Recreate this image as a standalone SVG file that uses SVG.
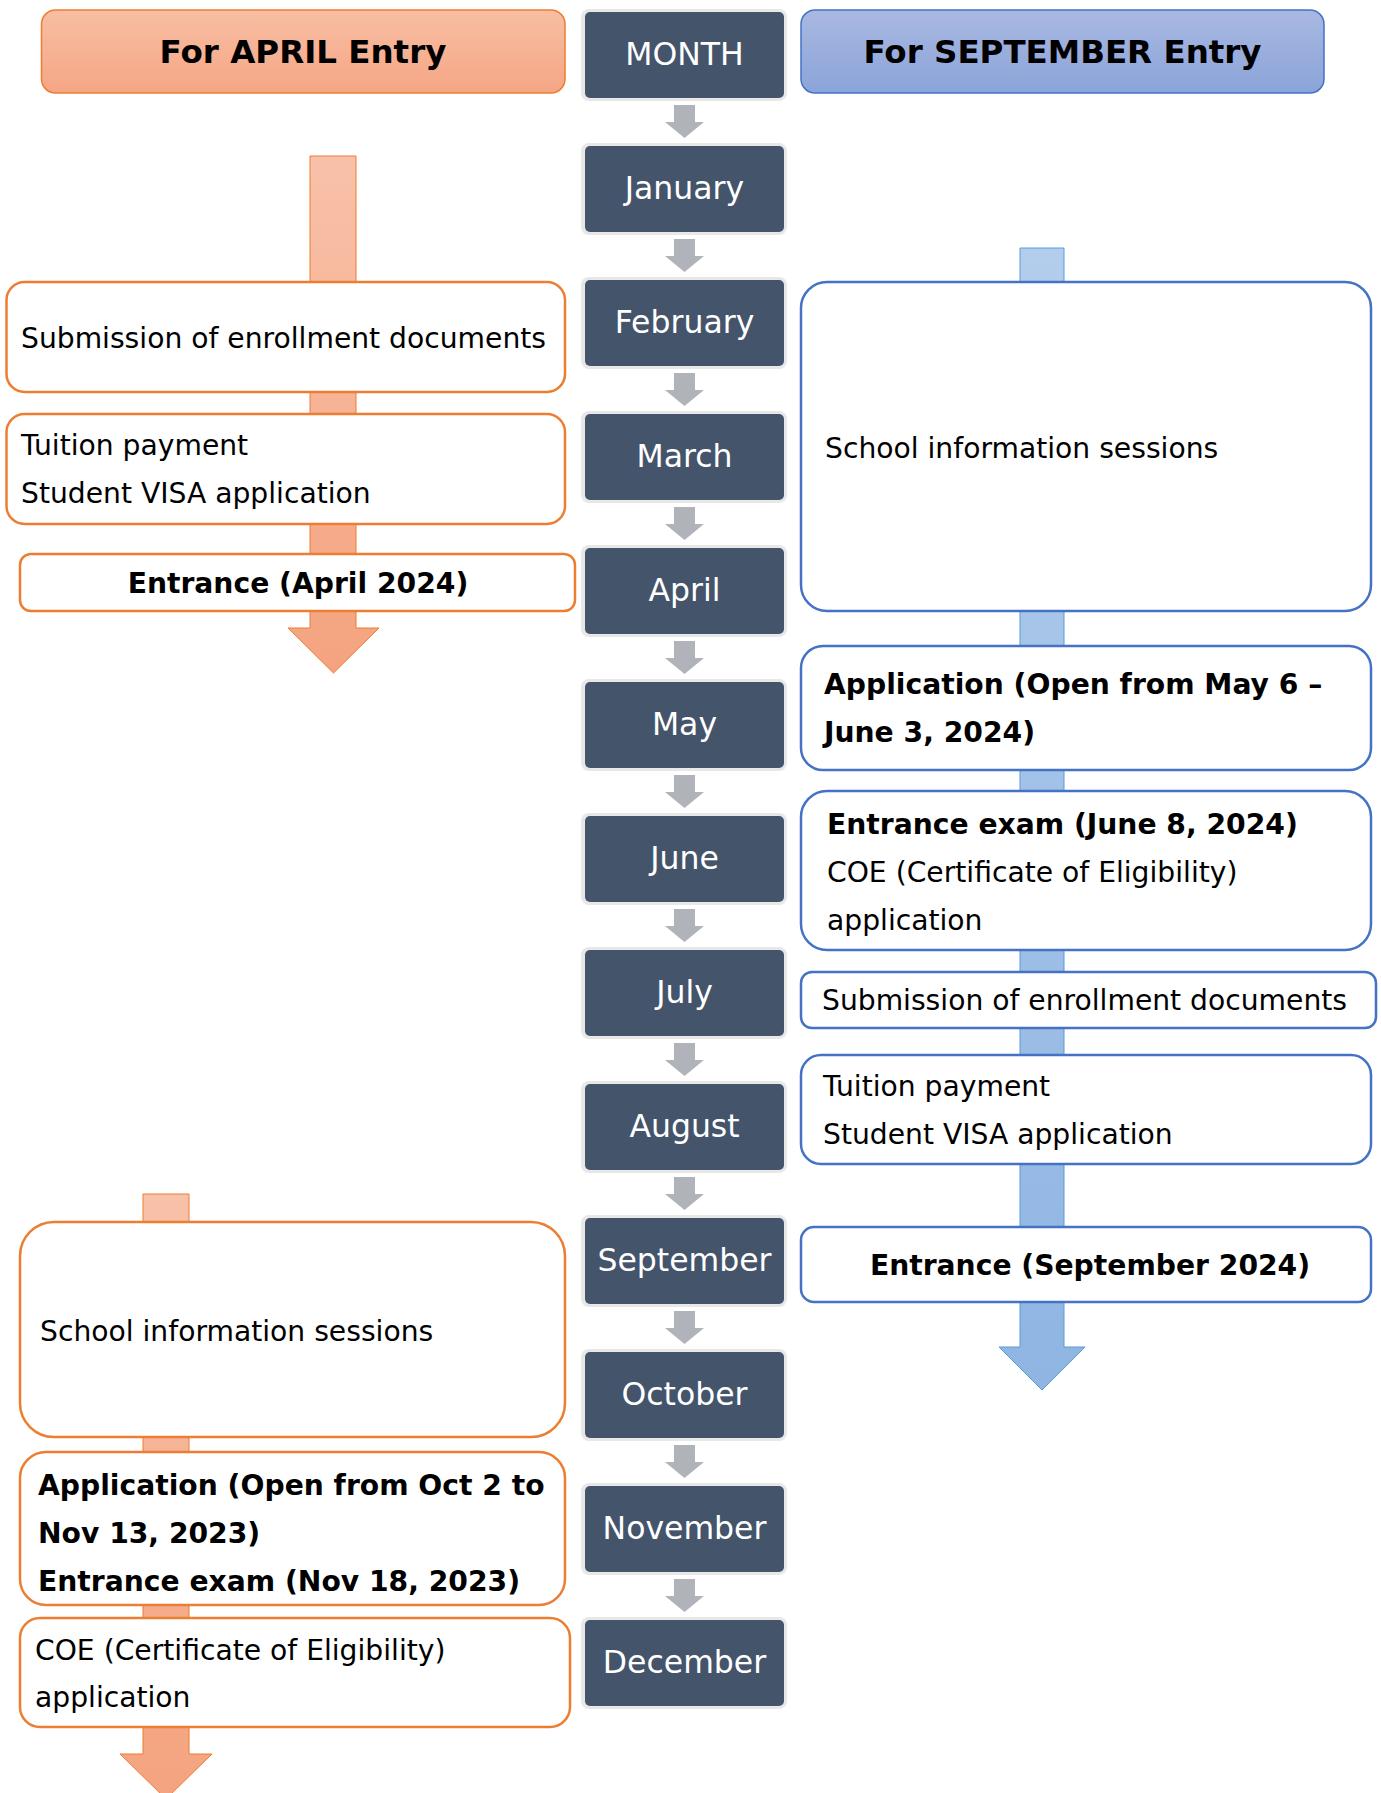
<svg xmlns="http://www.w3.org/2000/svg" xmlns:xlink="http://www.w3.org/1999/xlink" width="1381" height="1793" viewBox="0 0 1381 1793">
<defs>
<linearGradient id="gOr" x1="0" y1="0" x2="0" y2="1"><stop offset="0" stop-color="#f8c1a9"/><stop offset="1" stop-color="#f4a37f"/></linearGradient>
<linearGradient id="gBl" x1="0" y1="0" x2="0" y2="1"><stop offset="0" stop-color="#b3cdec"/><stop offset="1" stop-color="#8fb5e3"/></linearGradient>
<linearGradient id="gHOr" x1="0" y1="0" x2="0" y2="1"><stop offset="0" stop-color="#f8bea4"/><stop offset="1" stop-color="#f5a684"/></linearGradient>
<linearGradient id="gHBl" x1="0" y1="0" x2="0" y2="1"><stop offset="0" stop-color="#a9b8e1"/><stop offset="1" stop-color="#8ba4d9"/></linearGradient>
<path id="ga" d="M9,0 H30 V17 H39 L19.5,33 L0,17 H9 Z" fill="#b0b3b9"/>
</defs>
<style>
text{font-family:"DejaVu Sans","Verdana",sans-serif;}
.t{font-size:28.2px;fill:#000;}
.b{font-size:28.2px;font-weight:bold;fill:#000;}
.h{font-size:32.5px;font-weight:bold;fill:#000;text-anchor:middle;}
.m{font-size:31.5px;fill:#fff;text-anchor:middle;}
.or{fill:#fff;stroke:#ed7d31;stroke-width:2.5;}
.bl{fill:#fff;stroke:#4472c4;stroke-width:2.5;}
.mo-o{fill:#e8e8e8;}
.mo-i{fill:#44546a;}
</style>
<rect width="1381" height="1793" fill="#fff"/>
<g id="connectors">
<path d="M310,156 H356 V628 H379 L333.5,673 L288,628 H310 Z" fill="url(#gOr)" stroke="#ed7d31" stroke-width="1"/>
<path d="M1020,248 H1064 V1347 H1085 L1042,1390 L999,1347 H1020 Z" fill="url(#gBl)" stroke="#5b9bd5" stroke-width="1"/>
<path d="M143,1194 H189 V1754 H212 L166,1799 L120,1754 H143 Z" fill="url(#gOr)" stroke="#ed7d31" stroke-width="1"/>
<use xlink:href="#ga" x="665" y="105"/>
<use xlink:href="#ga" x="665" y="239"/>
<use xlink:href="#ga" x="665" y="373"/>
<use xlink:href="#ga" x="665" y="507"/>
<use xlink:href="#ga" x="665" y="641"/>
<use xlink:href="#ga" x="665" y="775"/>
<use xlink:href="#ga" x="665" y="909"/>
<use xlink:href="#ga" x="665" y="1043"/>
<use xlink:href="#ga" x="665" y="1177"/>
<use xlink:href="#ga" x="665" y="1311"/>
<use xlink:href="#ga" x="665" y="1445"/>
<use xlink:href="#ga" x="665" y="1579"/>
</g>
<g id="header-april"><rect x="41.5" y="10" width="523.5" height="83" rx="14" fill="url(#gHOr)" stroke="#ed7d31" stroke-width="1.5"/><text class="h" x="303" y="63">For APRIL Entry</text></g>
<g id="header-september"><rect x="801" y="10" width="523" height="83" rx="14" fill="url(#gHBl)" stroke="#4472c4" stroke-width="1.5"/><text class="h" x="1062.5" y="63">For SEPTEMBER Entry</text></g>
<g id="m-month"><rect class="mo-o" x="581" y="9" width="206" height="92" rx="8"/><rect class="mo-i" x="585" y="12" width="199" height="86" rx="5"/><text class="m" x="684.5" y="65">MONTH</text></g>
<g id="m-jan"><rect class="mo-o" x="581" y="143" width="206" height="92" rx="8"/><rect class="mo-i" x="585" y="146" width="199" height="86" rx="5"/><text class="m" x="684.5" y="199">January</text></g>
<g id="m-feb"><rect class="mo-o" x="581" y="277" width="206" height="92" rx="8"/><rect class="mo-i" x="585" y="280" width="199" height="86" rx="5"/><text class="m" x="684.5" y="333">February</text></g>
<g id="m-mar"><rect class="mo-o" x="581" y="411" width="206" height="92" rx="8"/><rect class="mo-i" x="585" y="414" width="199" height="86" rx="5"/><text class="m" x="684.5" y="467">March</text></g>
<g id="m-apr"><rect class="mo-o" x="581" y="545" width="206" height="92" rx="8"/><rect class="mo-i" x="585" y="548" width="199" height="86" rx="5"/><text class="m" x="684.5" y="601">April</text></g>
<g id="m-may"><rect class="mo-o" x="581" y="679" width="206" height="92" rx="8"/><rect class="mo-i" x="585" y="682" width="199" height="86" rx="5"/><text class="m" x="684.5" y="735">May</text></g>
<g id="m-jun"><rect class="mo-o" x="581" y="813" width="206" height="92" rx="8"/><rect class="mo-i" x="585" y="816" width="199" height="86" rx="5"/><text class="m" x="684.5" y="869">June</text></g>
<g id="m-jul"><rect class="mo-o" x="581" y="947" width="206" height="92" rx="8"/><rect class="mo-i" x="585" y="950" width="199" height="86" rx="5"/><text class="m" x="684.5" y="1003">July</text></g>
<g id="m-aug"><rect class="mo-o" x="581" y="1081" width="206" height="92" rx="8"/><rect class="mo-i" x="585" y="1084" width="199" height="86" rx="5"/><text class="m" x="684.5" y="1137">August</text></g>
<g id="m-sep"><rect class="mo-o" x="581" y="1215" width="206" height="92" rx="8"/><rect class="mo-i" x="585" y="1218" width="199" height="86" rx="5"/><text class="m" x="684.5" y="1271">September</text></g>
<g id="m-oct"><rect class="mo-o" x="581" y="1349" width="206" height="92" rx="8"/><rect class="mo-i" x="585" y="1352" width="199" height="86" rx="5"/><text class="m" x="684.5" y="1405">October</text></g>
<g id="m-nov"><rect class="mo-o" x="581" y="1483" width="206" height="92" rx="8"/><rect class="mo-i" x="585" y="1486" width="199" height="86" rx="5"/><text class="m" x="684.5" y="1539">November</text></g>
<g id="m-dec"><rect class="mo-o" x="581" y="1617" width="206" height="92" rx="8"/><rect class="mo-i" x="585" y="1620" width="199" height="86" rx="5"/><text class="m" x="684.5" y="1673">December</text></g>
<g id="a-submission"><rect class="or" x="6.5" y="282" width="558.5" height="110" rx="18"/><text class="t" x="21" y="348">Submission of enrollment documents</text></g>
<g id="a-tuition"><rect class="or" x="6.5" y="414" width="558.5" height="110" rx="18"/><text class="t" x="21" y="455">Tuition payment</text><text class="t" x="21" y="503">Student VISA application</text></g>
<g id="a-entrance"><rect class="or" x="20" y="554" width="555" height="57" rx="11"/><text class="b" x="298" y="593" text-anchor="middle">Entrance (April 2024)</text></g>
<g id="a-sessions"><rect class="or" x="20" y="1222" width="545" height="215" rx="34"/><text class="t" x="40" y="1341">School information sessions</text></g>
<g id="a-application"><rect class="or" x="20" y="1452" width="545" height="153" rx="26"/><text class="b" x="38" y="1495">Application (Open from Oct 2 to</text><text class="b" x="38" y="1543">Nov 13, 2023)</text><text class="b" x="38" y="1591">Entrance exam (Nov 18, 2023)</text></g>
<g id="a-coe"><rect class="or" x="20" y="1618" width="550" height="109" rx="20"/><text class="t" x="35" y="1660">COE (Certificate of Eligibility)</text><text class="t" x="35" y="1707">application</text></g>
<g id="s-sessions"><rect class="bl" x="801" y="282" width="570" height="329" rx="26"/><text class="t" x="825" y="458">School information sessions</text></g>
<g id="s-application"><rect class="bl" x="801" y="646" width="570" height="124" rx="22"/><text class="b" x="824" y="694">Application (Open from May 6 –</text><text class="b" x="824" y="742">June 3, 2024)</text></g>
<g id="s-exam"><rect class="bl" x="801" y="791" width="570" height="159" rx="26"/><text class="b" x="827" y="834">Entrance exam (June 8, 2024)</text><text class="t" x="827" y="882">COE (Certificate of Eligibility)</text><text class="t" x="827" y="930">application</text></g>
<g id="s-submission"><rect class="bl" x="801" y="972" width="575" height="56" rx="11"/><text class="t" x="822" y="1010">Submission of enrollment documents</text></g>
<g id="s-tuition"><rect class="bl" x="801" y="1055" width="570" height="109" rx="20"/><text class="t" x="823" y="1096">Tuition payment</text><text class="t" x="823" y="1144">Student VISA application</text></g>
<g id="s-entrance"><rect class="bl" x="801" y="1227" width="570" height="75" rx="13"/><text class="b" x="1090" y="1275" text-anchor="middle">Entrance (September 2024)</text></g>
</svg>
